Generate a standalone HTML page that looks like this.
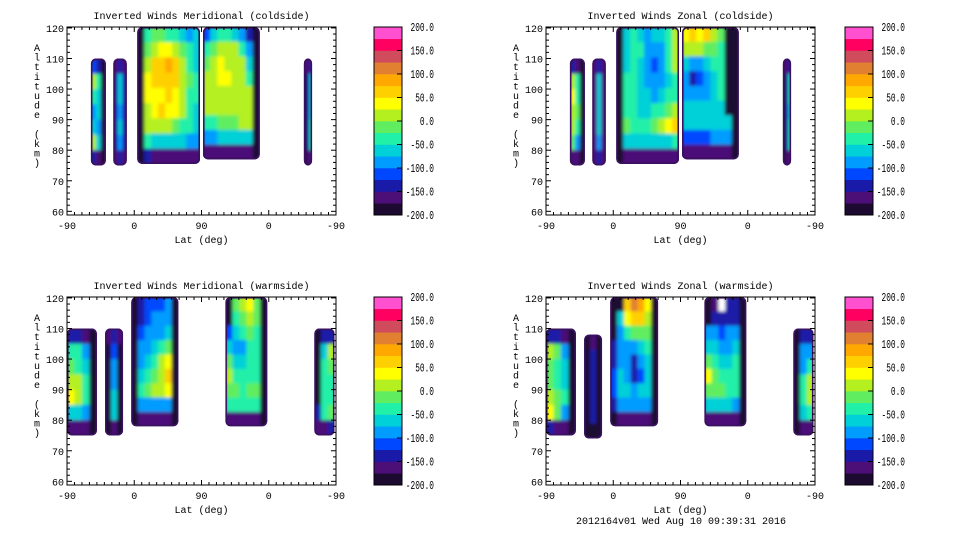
<!DOCTYPE html>
<html><head><meta charset="utf-8">
<style>
html,body{margin:0;padding:0;background:#fff;}
svg{display:block;font-family:"Liberation Mono",monospace;}
</style></head>
<body>
<svg id="chart" width="960" height="540" viewBox="0 0 960 540" xmlns="http://www.w3.org/2000/svg">
<defs><filter id="soft" x="-5%" y="-5%" width="110%" height="110%"><feGaussianBlur stdDeviation="1.6"/></filter></defs>
<rect width="960" height="540" fill="#fff"/>
<text x="681" y="524" font-size="10" text-anchor="middle">2012164v01 Wed Aug 10 09:39:31 2016</text>
</svg>
<script>
// ---- colour scale ----
const levelValues = [-200,-175,-150,-125,-100,-75,-50,-25,0,25,50,75,100,125,150,175,200];
const bandColors = ["#1c0a30","#4c0f78","#1a1aa8","#0048ff","#009cff","#00d0d8","#20f0a8","#60ee60","#b4f020","#ffff00","#ffd000","#ffa800","#e08030","#d04c5c","#ff0060","#ff50d0"];
const colorbarLabels = ["200.0","150.0","100.0","50.0","0.0","-50.0","-100.0","-150.0","-200.0"];
const colorbarLabelValues = [200,150,100,50,0,-50,-100,-150,-200];
const xTickLabels = ["-90","0","90","0","-90"];
const xTickPositions = [0,90,180,270,360];
const yTickLabels = ["60","70","80","90","100","110","120"];
const yTickValues = [60,70,80,90,100,110,120];
const panelTitles = ["Inverted Winds Meridional (coldside)","Inverted Winds Zonal (coldside)","Inverted Winds Meridional (warmside)","Inverted Winds Zonal (warmside)"];

// strip extents: [xStart(deg along track), xEnd, altBottom, altTop]
const tlExtents = [[32,52,75,110],[62,80,75,110],[94,178,75.5,120.3],[182,258,77,120.3],[317,328,75,110]];
const trExtents = [[32,52,75,110],[62,80,75,110],[94,178,75.5,120.3],[182,258,77,120.3],[317,328,75,110]];
const blExtents = [[0,40,75,110],[51,75,75,110],[86,149,78,120.3],[212,268,78,120.3],[331,358,75,110]];
const brExtents = [[0,40,75,110],[51,75,74,108],[86,150,78,120.3],[212,268,78,120.3],[331,358,75,110]];

// values (m/s), rows top -> bottom
const tlS1 = [[-120,-150,-200],[20,-50,-200],[-30,-60,-200],[-80,-70,-200],[-60,-80,-200],[0,-60,-200],[-150,-160,-190]];
const tlS2 = [[-170,-150,-170],[-150,-70,-150],[-150,-70,-150],[-150,-80,-150],[-150,-70,-150],[-150,-80,-150],[-170,-150,-170]];
const tlS3 = [[-200,-30,-10,-20,-30,-50,-60,-80,-60],[-200,-10,20,30,40,20,-10,-50,-60],[-200,20,50,70,80,60,20,-30,-60],[-200,30,50,50,60,50,20,-20,-50],[-200,30,40,40,50,40,10,-30,-40],[-200,20,40,50,40,30,0,-40,-60],[-200,0,20,10,0,-10,-30,-50,-60],[-200,-50,-60,-70,-60,-60,-70,-80,-100],[-180,-150,-160,-160,-160,-160,-160,-160,-170]];
const tlS4 = [[-120,-60,-40,-50,-60,-100,-150,-190],[-50,-20,0,10,0,-30,-100,-200],[-10,10,30,20,20,0,-60,-200],[10,20,30,30,20,10,-30,-200],[10,20,20,20,20,20,0,-200],[10,20,20,20,20,20,20,-200],[-40,-30,-20,-10,-10,0,10,-200],[-100,-80,-70,-70,-60,-60,-70,-200],[-160,-170,-170,-170,-170,-170,-170,-190]];
const tlS5 = [[-170,-160,-150],[-200,-150,-60],[-200,-150,-60],[-200,-150,-60],[-200,-150,-50],[-200,-150,-30],[-190,-170,-160]];

const trS1 = [[-130,-160,-200],[20,-40,-200],[30,-40,-200],[20,-20,-200],[0,-40,-200],[-20,-80,-200],[-160,-170,-190]];
const trS2 = [[-170,-150,-170],[-160,-60,-160],[-160,-60,-160],[-160,-70,-160],[-160,-60,-160],[-160,-80,-160],[-170,-150,-170]];
const trS3 = [[-200,-60,-40,-60,-80,-70,-60,-40,0],[-200,-60,-40,-50,-90,-100,-80,-40,20],[-200,-60,-50,-60,-100,-110,-90,-50,0],[-200,-40,-30,-60,-80,-100,-80,-60,-30],[-200,-50,-50,-60,-70,-80,-60,-50,-30],[-200,-30,-40,-60,-60,-50,-30,-10,20],[-200,-20,-40,-40,-30,-10,20,40,60],[-200,-60,-60,-70,-70,-70,-60,-60,-40],[-190,-170,-170,-170,-170,-170,-170,-170,-170]];
const trS4 = [[40,50,40,50,20,-20,-200,-200],[0,10,0,-10,-20,-50,-200,-200],[-60,-80,-80,-60,-50,-50,-200,-200],[-100,-140,-110,-80,-60,-50,-200,-200],[-80,-100,-90,-80,-60,-50,-200,-200],[-60,-60,-60,-60,-60,-60,-200,-200],[-60,-60,-60,-60,-60,-60,-60,-200],[-120,-110,-110,-110,-100,-100,-100,-200],[-170,-170,-170,-170,-170,-170,-170,-190]];
const trS5 = [[-170,-160,-150],[-200,-150,-40],[-200,-150,-50],[-200,-150,-60],[-200,-150,-40],[-200,-150,-50],[-190,-170,-160]];

const blS1 = [[-140,-150,-170,-190],[-30,-50,-80,-200],[-10,-30,-60,-200],[20,0,-40,-200],[30,0,-30,-200],[-60,-60,-80,-200],[-160,-160,-170,-190]];
const blS2 = [[-170,-150,-170],[-200,-110,-180],[-200,-100,-180],[-200,-100,-180],[-200,-70,-180],[-200,-60,-180],[-180,-170,-180]];
const blS3 = [[-200,-150,-120,-110,-110,-100,-200],[-200,-130,-110,-100,-100,-80,-200],[-190,-110,-90,-90,-80,-60,-200],[-180,-90,-80,-60,-40,-20,-200],[-180,-80,-60,-30,0,40,-200],[-180,-70,-40,-10,20,50,-200],[-180,-50,-20,0,20,30,-200],[-180,-100,-90,-80,-80,-80,-200],[-190,-170,-170,-170,-170,-170,-190]];
const blS4 = [[-200,-20,10,30,-20,-200],[-200,-40,-20,20,-20,-200],[-110,-60,-40,-20,-30,-200],[-60,-90,-80,-50,-40,-200],[-10,-60,-70,-50,-40,-200],[20,-30,-40,-40,-30,-200],[-10,-20,-30,-20,-20,-200],[-40,-30,-30,-40,-40,-200],[-160,-160,-160,-160,-160,-190]];
const blS5 = [[-180,-150,-140],[-200,-60,0],[-200,-40,-20],[-200,-40,-30],[-200,-40,-40],[-150,-40,-20],[-170,-160,-150]];

const brS1 = [[-140,-140,-160,-190],[20,-10,-100,-200],[-10,-30,-60,-200],[-20,-40,-60,-200],[10,-20,-40,-200],[30,-20,-80,-200],[-150,-160,-170,-190]];
const brS2 = [[-180,-170,-180],[-180,-140,-180],[-180,-140,-180],[-180,-140,-180],[-180,-140,-180],[-180,-140,-180],[-190,-180,-190]];
const brS3 = [[-200,-200,50,120,80,40,-200],[-200,-60,30,60,50,20,-200],[-200,-80,-40,-20,-20,-10,-200],[-150,-80,-80,-90,-70,-40,-200],[-130,-80,-100,-140,-100,-60,-200],[-120,-70,-100,-140,-110,-60,-200],[-110,-60,-70,-80,-70,-60,-200],[-140,-90,-90,-90,-80,-80,-200],[-180,-170,-170,-170,-170,-170,-190]];
const brS4 = [[-200,-170,null,-150,-140,-200],[-200,-140,-140,-140,-130,-200],[-80,-90,-110,-100,-100,-200],[-60,-60,-80,-90,-60,-200],[-20,-40,-60,-70,-50,-200],[40,-20,-30,-40,-40,-200],[-10,-10,-20,-30,-40,-200],[-60,-60,-70,-70,-80,-200],[-160,-160,-160,-160,-160,-190]];
const brS5 = [[-180,-150,-150],[-180,-100,-80],[-180,-80,-40],[-200,-40,20],[-200,-40,0],[-180,-60,-40],[-180,-170,-160]];

const panels = [
  {name:"meridional-coldside", ox:67, oy:27, cbx:374, ext:tlExtents, strips:[tlS1,tlS2,tlS3,tlS4,tlS5], title:panelTitles[0]},
  {name:"zonal-coldside", ox:546, oy:27, cbx:845, ext:trExtents, strips:[trS1,trS2,trS3,trS4,trS5], title:panelTitles[1]},
  {name:"meridional-warmside", ox:67, oy:297, cbx:374, ext:blExtents, strips:[blS1,blS2,blS3,blS4,blS5], title:panelTitles[2]},
  {name:"zonal-warmside", ox:546, oy:297, cbx:845, ext:brExtents, strips:[brS1,brS2,brS3,brS4,brS5], title:panelTitles[3]}
];

const NS = "http://www.w3.org/2000/svg";
const svg = document.getElementById("chart");
const W = 269, H = 188, A0 = 58.8, A1 = 120.3;
function mk(tag, attrs, parent){ const e = document.createElementNS(NS, tag); for (const k in attrs) e.setAttribute(k, attrs[k]); (parent||svg).appendChild(e); return e; }
function colorFor(v){ let i = Math.floor((v + 200) / 25); if (i < 0) i = 0; if (i > 15) i = 15; return bandColors[i]; }

panels.forEach((p, pi) => {
  const xs = d => p.ox + d * W / 360;
  const ys = a => p.oy + (A1 - a) * H / (A1 - A0);
  const g = mk("g", {});
  
  

  const t = mk("text", {x: p.ox + W/2, y: p.oy - 8, "font-size": 10, "text-anchor": "middle"}, g);
  t.textContent = p.title;
  
  

  p.strips.forEach((vals, si) => {
    const e = p.ext[si];
    const x0 = xs(e[0]), x1 = xs(e[1]), y0 = ys(e[3]), y1 = ys(e[2]);
    const cid = "clip" + pi + "_" + si;
    const cp = mk("clipPath", {id: cid}, g);
    mk("rect", {x: x0, y: y0, width: x1 - x0, height: y1 - y0, rx: 5, ry: 5}, cp);
    const sg = mk("g", {"clip-path": "url(#" + cid + ")"}, g);
    
    
    mk("rect", {x: x0, y: y0, width: x1 - x0, height: y1 - y0, fill: "#1c0a30"}, sg);
    const cg2 = mk("g", {filter: "url(#soft)"}, sg);
    const nr = vals.length, nc = vals[0].length;
    const cw = (x1 - x0) / nc, ch = (y1 - y0) / nr;
    vals.forEach((row, r) => row.forEach((v, c) => {
      const cell = mk("rect", {x: x0 + c * cw, y: y0 + r * ch, width: cw + 0.5, height: ch + 0.5, fill: v === null ? "#fff" : colorFor(v)}, cg2);
      
      
    }));
    mk("rect", {x: x0 + 0.5, y: y0 + 0.5, width: x1 - x0 - 1, height: y1 - y0 - 1, rx: 5, ry: 5, fill: "none", stroke: "#3a1060", "stroke-width": 2}, sg);
  });

  const fr = mk("rect", {x: p.ox, y: p.oy, width: W, height: H, fill: "none", stroke: "#000", "stroke-width": 1}, g);
  
  

  for (let a = 60; a <= 120; a += 2) {
    const y = ys(a), len = (a % 10 === 0) ? 5 : 3;
    mk("line", {x1: p.ox, x2: p.ox + len, y1: y, y2: y, stroke: "#000"}, g);
    mk("line", {x1: p.ox + W, x2: p.ox + W - len, y1: y, y2: y, stroke: "#000"}, g);
  }
  yTickLabels.forEach((lab, i) => {
    const tt = mk("text", {x: p.ox - 3, y: ys(yTickValues[i]) + 4, "font-size": 10, "text-anchor": "end"}, g);
    tt.textContent = lab;
    
    
  });
  for (let d = 0; d <= 360; d += 10) {
    const x = xs(d), len = (d % 90 === 0) ? 5 : 3;
    mk("line", {x1: x, x2: x, y1: p.oy + H, y2: p.oy + H - len, stroke: "#000"}, g);
    mk("line", {x1: x, x2: x, y1: p.oy, y2: p.oy + len, stroke: "#000"}, g);
  }
  xTickLabels.forEach((lab, i) => {
    const tt = mk("text", {x: xs(xTickPositions[i]), y: p.oy + H + 14, "font-size": 10, "text-anchor": "middle"}, g);
    tt.textContent = lab;
    
    
  });
  const xl = mk("text", {x: p.ox + W/2, y: p.oy + H + 28, "font-size": 10, "text-anchor": "middle"}, g);
  xl.textContent = "Lat (deg)";
  
  
  const ylab = "Altitude (km)";
  const yl = mk("text", {x: p.ox - 30, y: p.oy + 24, "font-size": 10, "text-anchor": "middle"}, g);
  
  
  for (let i = 0; i < ylab.length; i++) {
    const sp = mk("tspan", {x: p.ox - 30, dy: i === 0 ? 0 : 9.6}, yl);
    sp.textContent = ylab[i] === " " ? "\u00a0" : ylab[i];
  }

  const cg = mk("g", {}, g);
  
  
  const cbs = v => p.oy + (200 - v) * H / 400;
  bandColors.forEach((col, i) => {
    const b = mk("rect", {x: p.cbx, y: cbs(levelValues[i + 1]), width: 28, height: cbs(levelValues[i]) - cbs(levelValues[i + 1]) + 0.3, fill: col}, cg);
    
    
  });
  mk("rect", {x: p.cbx, y: p.oy, width: 28, height: H, fill: "none", stroke: "#000"}, cg);
  colorbarLabels.forEach((lab, i) => {
    const y = cbs(colorbarLabelValues[i]);
    mk("line", {x1: p.cbx + 28, x2: p.cbx + 23, y1: y, y2: y, stroke: "#000"}, cg);
    const len = lab.length * 4.7;
    const tt = mk("text", {x: p.cbx + 60 - len, y: y + 4, "font-size": 11.5, textLength: len, lengthAdjust: "spacingAndGlyphs"}, cg);
    tt.textContent = lab;
    
    
  });
});
</script>
</body></html>
